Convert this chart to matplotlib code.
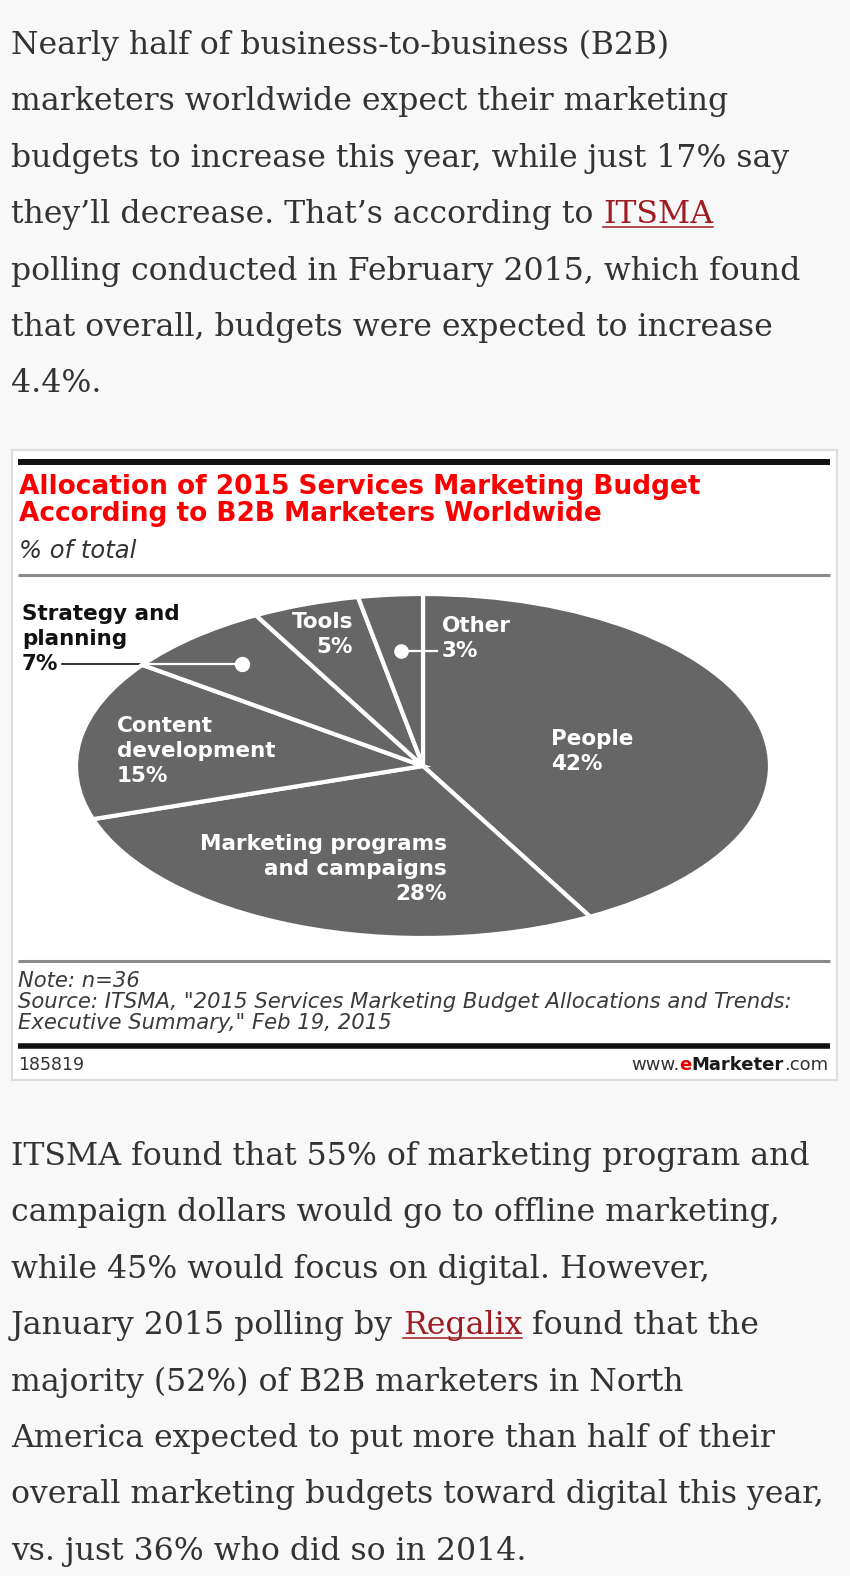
"""
Recreation of an article screenshot: two text paragraphs around an
eMarketer pie chart (2015 services marketing budget allocation).
"""

import re

import matplotlib.pyplot as plt
import numpy as np

W, H = 850, 1576

# Chart data
categories = [
    "People",
    "Marketing programs\nand campaigns",
    "Content\ndevelopment",
    "Strategy and\nplanning",
    "Tools",
    "Other",
]
shares = [42, 28, 15, 7, 5, 3]

# Article text; [word] marks a link
intro_lines = [
    "Nearly half of business-to-business (B2B)",
    "marketers worldwide expect their marketing",
    "budgets to increase this year, while just 17% say",
    "they’ll decrease. That’s according to [ITSMA]",
    "polling conducted in February 2015, which found",
    "that overall, budgets were expected to increase",
    "4.4%.",
]
outro_lines = [
    "ITSMA found that 55% of marketing program and",
    "campaign dollars would go to offline marketing,",
    "while 45% would focus on digital. However,",
    "January 2015 polling by [Regalix] found that the",
    "majority (52%) of B2B marketers in North",
    "America expected to put more than half of their",
    "overall marketing budgets toward digital this year,",
    "vs. just 36% who did so in 2014.",
]

chart_title = ("Allocation of 2015 Services Marketing Budget\n"
               "According to B2B Marketers Worldwide")
chart_subtitle = "% of total"
chart_note = ('Note: n=36\n'
              'Source: ITSMA, "2015 Services Marketing Budget Allocations and Trends:\n'
              'Executive Summary," Feb 19, 2015')
chart_id = "185819"
brand_parts = [("www.", "normal", "#333333"), ("e", "bold", "#e60000"),
               ("Marketer", "bold", "#1a1a1a"), (".com", "normal", "#333333")]

# label layout: x, cap top y, alignment, colour
label_layout = {
    "People": (551, 729, "left", "white"),
    "Marketing programs\nand campaigns": (447, 834, "right", "white"),
    "Content\ndevelopment": (117, 716, "left", "white"),
    "Strategy and\nplanning": (22, 604, "left", "#111111"),
    "Tools": (353, 612, "right", "white"),
    "Other": (442, 616, "left", "white"),
}

TEXT = "#333333"
LINK = "#9e1b22"
BODY = dict(family="DejaVu Serif", fontsize=22.7, va="baseline")
LABEL = dict(family="DejaVu Sans", fontsize=15.5, fontweight="bold", linespacing=1.32)


def px_axes(fig, z):
    ax = fig.add_axes([0, 0, 1, 1])
    ax.set_xlim(0, W)
    ax.set_ylim(H, 0)
    ax.axis("off")
    ax.set_zorder(z)
    return ax


def draw_line(ax, renderer, x0, y, line):
    """Draw one line of body text, links in red with underline."""
    done = ""
    for part in re.split(r"(\[[^\]]+\])", line):
        if not part:
            continue
        is_link = part.startswith("[")
        word = part.strip("[]")
        done += word
        probe = ax.text(x0, y, done, ha="left", **BODY)
        right = probe.get_window_extent(renderer).x1
        probe.remove()
        t = ax.text(right, y, word, ha="right",
                    color=LINK if is_link else TEXT, **BODY)
        if is_link:
            bb = t.get_window_extent(renderer)
            ax.plot([bb.x0, bb.x1], [y + 3.5, y + 3.5], color=LINK, lw=1.1)


fig = plt.figure(figsize=(W / 100, H / 100), dpi=100, facecolor="#f8f8f8")
renderer = fig.canvas.get_renderer()
bg = px_axes(fig, 1)

# article text
for i, line in enumerate(intro_lines):
    draw_line(bg, renderer, 11, 54 + i * 56.4, line)
for i, line in enumerate(outro_lines):
    draw_line(bg, renderer, 11, 1165 + i * 56.4, line)

# chart card
bg.add_patch(plt.Rectangle((12, 450), 825, 630, facecolor="white",
                           edgecolor="#dddddd", lw=1.5))
bg.plot([18, 830], [462, 462], color="#111111", lw=4.3, solid_capstyle="butt")
bg.plot([18, 830], [574.5, 574.5], color="#8a8a8a", lw=2.2, solid_capstyle="butt")
bg.plot([18, 830], [960.5, 960.5], color="#8a8a8a", lw=2.2, solid_capstyle="butt")
bg.plot([18, 830], [1045.5, 1045.5], color="#111111", lw=4.0, solid_capstyle="butt")

bg.text(19, 474, chart_title, color="#fa0000", family="DejaVu Sans",
        fontweight="bold", fontsize=19, va="top", linespacing=1.04)
bg.text(19, 539, chart_subtitle, color=TEXT, family="DejaVu Sans",
        style="italic", fontsize=17.5, va="top")
bg.text(18, 971, chart_note, color="#3a3a3a", family="DejaVu Sans",
        style="italic", fontsize=15.2, va="top", linespacing=1.07)
bg.text(18, 1070, chart_id, color=TEXT, family="DejaVu Sans",
        fontsize=12.5, va="baseline")

x_right = 828
for text, weight, colour in reversed(brand_parts):
    t = bg.text(x_right, 1070, text, ha="right", va="baseline", color=colour,
                family="DejaVu Sans", fontweight=weight, fontsize=13)
    x_right = t.get_window_extent(renderer).x0

# pie squashed into an ellipse
cx, cy, rx, ry = 423, 766, 347, 172
ax_pie = fig.add_axes([(cx - rx) / W, 1 - (cy + ry) / H, 2 * rx / W, 2 * ry / H])
ax_pie.set_zorder(2)
wedges, _ = ax_pie.pie(shares, startangle=90, counterclock=False,
                       colors=["#666666"] * len(shares),
                       wedgeprops=dict(edgecolor="white", linewidth=3))
ax_pie.set_aspect("auto")
ax_pie.set_xlim(-1, 1)
ax_pie.set_ylim(-1, 1)
ax_pie.axis("off")

fg = px_axes(fig, 3)
fg.patch.set_visible(False)

for cat, val in zip(categories, shares):
    x, y, ha, colour = label_layout[cat]
    fg.text(x, y, f"{cat}\n{val}%", ha=ha, va="top", multialignment=ha,
            color=colour, **LABEL)


def wedge_point(wedge, r):
    ang = np.deg2rad((wedge.theta1 + wedge.theta2) / 2)
    disp = ax_pie.transData.transform((r * np.cos(ang), r * np.sin(ang)))
    return fg.transData.inverted().transform(disp)


# Strategy leader: black outside the pie, white over it
sx, sy = wedge_point(wedges[3], 0.79)
bg.plot([62, sx], [sy, sy], color="#111111", lw=1.2)
fg.plot([147, sx], [sy, sy], color="white", lw=1.6)
fg.plot(sx, sy, "o", color="white", ms=10)

# Other leader
ox, oy = wedge_point(wedges[5], 0.67)
fg.plot([ox, 437], [oy, oy], color="white", lw=1.6)
fg.plot(ox, oy, "o", color="white", ms=9.5)

fig.savefig("out.png", dpi=100, facecolor=fig.get_facecolor())
